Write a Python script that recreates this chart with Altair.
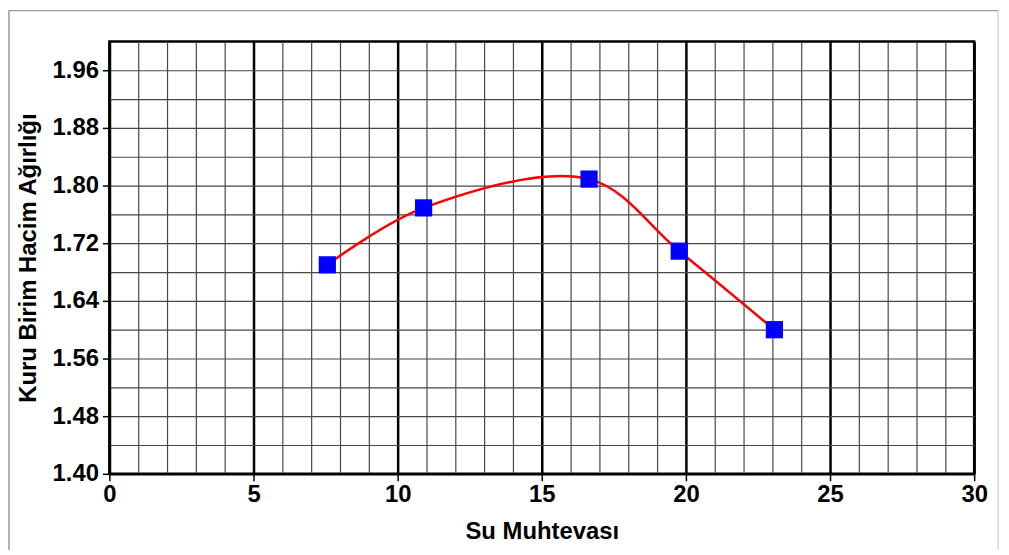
import altair as alt
import pandas as pd

# data
su_muhtevasi = [7.56, 10.9, 16.64, 19.77, 23.07]
kuru_birim = [1.690, 1.769, 1.809, 1.709, 1.600]

x_grid_values = list(range(0, 31))          # grid every 1, labels every 5
y_grid_values = [1.40, 1.44, 1.48, 1.52, 1.56, 1.60, 1.64, 1.68, 1.72,
                 1.76, 1.80, 1.84, 1.88, 1.92, 1.96]

x_title = "Su Muhtevası"
y_title = "Kuru Birim Hacim Ağırlığı"

df = pd.DataFrame({"x": su_muhtevasi, "y": kuru_birim})

FONT = "Liberation Sans"
FS = 24
x_major = "datum.value % 5 === 0"
y_major = "round((datum.value - 1.4) / 0.04) % 2 === 0"

x_enc = alt.X(
    "x:Q",
    scale=alt.Scale(domain=[0, 30], nice=False, zero=False),
    axis=alt.Axis(
        title=x_title,
        values=x_grid_values,
        tickCount=100,
        format="d",
        grid=True,
        gridColor={"condition": {"test": x_major, "value": "#000000"}, "value": "#474747"},
        gridWidth={"condition": {"test": x_major, "value": 2.5}, "value": 1.2},
        tickColor={"condition": {"test": x_major, "value": "#000000"}, "value": "transparent"},
        tickSize=7,
        tickWidth=1.5,
        labelExpr="datum.value % 5 === 0 ? datum.label : ''",
        labelOverlap=False,
        labelFlush=False,
        labelPadding=2,
        labelFont=FONT,
        labelFontSize=FS,
        labelFontWeight="bold",
        labelColor="#000000",
        domain=True,
        domainColor="#000000",
        domainWidth=2.5,
        titleFont=FONT,
        titleFontSize=FS,
        titleFontWeight="bold",
        titleColor="#000000",
        titlePadding=13,
    ),
)

y_enc = alt.Y(
    "y:Q",
    scale=alt.Scale(domain=[1.40, 2.00], nice=False, zero=False),
    axis=alt.Axis(
        title=y_title,
        values=y_grid_values,
        tickCount=100,
        format=".2f",
        grid=True,
        gridColor="#474747",
        gridWidth=1.2,
        tickColor={"condition": {"test": y_major, "value": "#000000"}, "value": "transparent"},
        tickSize=7,
        tickWidth=1.5,
        labelExpr=y_major + " ? datum.label : ''",
        labelOverlap=False,
        labelFlush=False,
        labelPadding=4,
        labelFont=FONT,
        labelFontSize=FS,
        labelFontWeight="bold",
        labelColor="#000000",
        domain=True,
        domainColor="#000000",
        domainWidth=2.5,
        titleFont=FONT,
        titleFontSize=FS,
        titleFontWeight="bold",
        titleColor="#000000",
        titlePadding=12,
    ),
)

base = alt.Chart(df)

curve = base.mark_line(color="#ff0000", strokeWidth=2.5, interpolate="catmull-rom").encode(
    x=x_enc, y=y_enc
)
points = base.mark_point(shape="square", filled=True, color="#0000ff", size=300, opacity=1).encode(
    x="x:Q", y="y:Q"
)

frame_data = alt.Data(values=[{}])
frame_left = alt.Chart(frame_data).mark_rule(color="#9a9a9a", strokeWidth=1.5).encode(
    x=alt.value(-101), y=alt.value(-31), y2=alt.value(520)
)
frame_top = alt.Chart(frame_data).mark_rule(color="#9a9a9a", strokeWidth=1.5).encode(
    x=alt.value(-101), x2=alt.value(894), y=alt.value(-31)
)
frame_right = alt.Chart(frame_data).mark_rule(color="#bdbdbd", strokeWidth=1).encode(
    x=alt.value(894), y=alt.value(-31), y2=alt.value(520)
)

chart = alt.layer(frame_left, frame_top, frame_right, curve, points).properties(
    width=870,
    height=435,
    autosize=alt.AutoSizeParams(type="none"),
    padding={"left": 102, "top": 32, "right": 27, "bottom": 75},
    background="#ffffff",
).configure_view(stroke="#000000", strokeWidth=2.5)

chart.save("out.html", embed_options={"renderer": "svg", "actions": False})
